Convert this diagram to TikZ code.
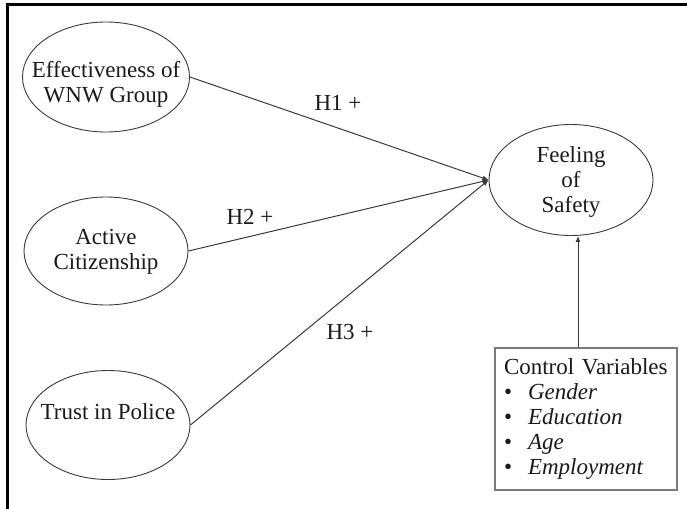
\documentclass[tikz,border=0pt]{standalone}
\usepackage{fontspec}
\setmainfont{Liberation Serif}
\usetikzlibrary{shapes.geometric,arrows.meta}
\definecolor{ink}{HTML}{1A1A1A}
\definecolor{edge}{HTML}{3A3A3A}
\definecolor{boxline}{HTML}{7A7A7A}
\newcommand{\shiftedtext}[2]{\raisebox{#1}[\height][\depth]{\begin{tabular}{@{}c@{}}#2\end{tabular}}}
\begin{document}
\begin{tikzpicture}[x=1pt,y=-1pt,
  font=\fontsize{23}{25}\selectfont, text=ink,
  construct/.style={ellipse, draw=edge, line width=0.9pt, inner sep=-22pt, align=center},
  path/.style={draw=edge, line width=1pt, -{Latex[length=6pt,width=5pt]}},
  hyp/.style={inner sep=0pt}]
\useasboundingbox (0,0) rectangle (687,508);
% outer frame
\draw[line width=2.5pt, line cap=rect] (7.5,520) -- (7.5,4.5) -- (700,4.5);
% constructs
\node[construct, minimum width=167pt, minimum height=110pt] (eff) at (106,77) {\shiftedtext{-8pt}{Effectiveness of\\WNW Group}};
\node[construct, minimum width=164pt, minimum height=108pt] (act) at (106,251) {\shiftedtext{-1pt}{Active\\Citizenship}};
\node[construct, minimum width=164pt, minimum height=109pt] (trust) at (108,425) {\shiftedtext{11pt}{Trust in Police}};
\node[construct, minimum width=164pt, minimum height=111pt] (feel) at (571,180) {\shiftedtext{-2pt}{Feeling\\of\\Safety}};
% control box
\node[draw=boxline, line width=1.4pt, minimum width=182pt, minimum height=142pt, inner xsep=9pt, inner ysep=0pt,
      text width=164pt, align=left] (ctrl) at (586,419)
  {Control Variables\\
   \makebox[24pt][l]{\textbullet}\textit{Gender}\\
   \makebox[24pt][l]{\textbullet}\textit{Education}\\
   \makebox[24pt][l]{\textbullet}\textit{Age}\\
   \makebox[24pt][l]{\textbullet}\textit{Employment}};
% paths
\draw[path] (eff.east) -- (feel.west);
\draw[path] (act.east) -- (feel.west);
\draw[path] (trust.east) -- (feel.west);
\coordinate (cbase) at ([xshift=-8pt]ctrl.north);
\draw[path] (cbase) -- (cbase |- feel.south);
% labels
\node[hyp] (h1) at (338,102.5) {H1 +};
\node[hyp] (h2) at (250,217) {H2 +};
\node[hyp] (h3) at (350,332) {H3 +};
\end{tikzpicture}
\end{document}
